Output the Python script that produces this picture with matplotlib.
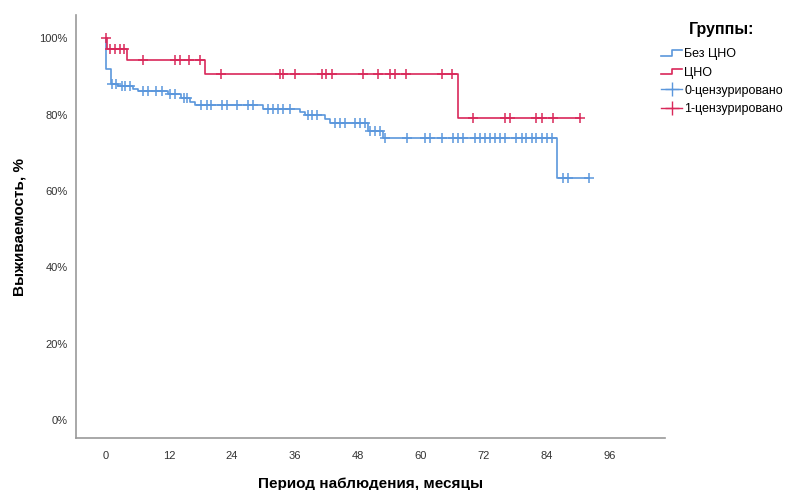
import numpy as np
import matplotlib.pyplot as plt
from matplotlib.lines import Line2D
from matplotlib.legend_handler import HandlerBase

# Без ЦНО: step times (months) and survival after each step (%)
blue_t = [0.0, 0.0, 0.9, 2.3, 5.2, 6.1, 11.9, 14.4, 16.0, 17.0, 30.0, 37.0,
          37.9, 41.7, 42.7, 50.0, 52.7, 86.0]
blue_s = [100.0, 92.0, 88.1, 87.5, 86.8, 86.1, 85.3, 84.2, 83.3, 82.5, 81.4,
          80.6, 80.0, 78.8, 77.7, 75.8, 73.9, 63.5]
blue_cens = [1.1, 2.0, 3.0, 3.6, 4.6, 7.1, 8.0, 9.6, 10.6, 12.2, 13.1, 14.9,
             15.5, 18.2, 19.2, 20.1, 22.1, 23.0, 24.9, 27.1, 28.1, 30.9, 31.9,
             32.8, 33.8, 35.0, 38.5, 39.2, 40.2, 43.6, 44.6, 45.5, 47.4, 48.4,
             49.3, 50.3, 51.2, 52.2, 53.1, 57.3, 60.8, 61.7, 64.1, 66.2, 67.1,
             68.1, 70.3, 71.2, 72.2, 73.1, 74.1, 75.0, 76.0, 78.2, 79.2, 80.1,
             81.1, 82.0, 83.0, 84.0, 84.9, 87.0, 88.0, 92.0]

# ЦНО
red_t = [0.0, 0.2, 4.0, 18.9, 67.1]
red_s = [100.0, 97.1, 94.4, 90.6, 79.2]
red_cens = [0.0, 0.8, 1.7, 2.6, 3.5, 7.1, 13.1, 14.1, 15.9, 17.9, 21.9, 33.1,
            33.8, 36.0, 41.1, 42.0, 43.0, 49.0, 51.9, 54.1, 55.0, 57.1, 64.1,
            66.0, 70.0, 76.0, 77.0, 82.0, 83.0, 85.1, 90.3]

xticks = [0, 12, 24, 36, 48, 60, 72, 84, 96]
yticks = [0, 20, 40, 60, 80, 100]

BLUE = '#5b97dc'
RED = '#d9285a'


def curve(t, s, cens):
    t = np.array(t)
    s = np.array(s)
    end = max(t.max(), max(cens))
    xs = np.append(t, end)
    ys = np.append(s, s[-1])
    idx = np.searchsorted(t, cens, side='right') - 1
    return xs, ys, np.array(cens), s[idx]


class StepHandler(HandlerBase):
    def create_artists(self, legend, orig, xd, yd, w, h, fontsize, trans):
        x = [xd, xd + w * 0.5, xd + w * 0.5, xd + w]
        y = [yd + h * 0.2, yd + h * 0.2, yd + h * 0.8, yd + h * 0.8]
        ln = Line2D(x, y, color=orig.get_color(), lw=orig.get_linewidth())
        ln.set_transform(trans)
        return [ln]


fig = plt.figure(figsize=(7.98, 4.9), dpi=100)
ax = fig.add_axes([0.0952, 0.106, 0.738, 0.863])

for (t, s, c, col) in [(blue_t, blue_s, blue_cens, BLUE),
                       (red_t, red_s, red_cens, RED)]:
    xs, ys, cx, cy = curve(t, s, c)
    ax.plot(xs, ys, drawstyle='steps-post', color=col, lw=1.2)
    ax.plot(cx, cy, ls='none', marker='+', ms=7, mew=1.1, color=col)

ax.set_xlim(-5.7, 106.5)
ax.set_ylim(-4.7, 106)
ax.set_xticks(xticks)
ax.set_yticks(yticks)
ax.set_yticklabels([f'{v}%' for v in yticks])
ax.tick_params(length=0, labelsize=8, labelcolor='#333333', pad=9)
for lab in ax.get_xticklabels() + ax.get_yticklabels():
    lab.set_fontfamily(['Liberation Sans Narrow', 'Liberation Sans'])
ax.tick_params(axis='y', pad=6)
for side in ['top', 'right']:
    ax.spines[side].set_visible(False)
for side in ['left', 'bottom']:
    ax.spines[side].set_color('#999999')
    ax.spines[side].set_linewidth(1.2)

ax.set_ylabel('Выживаемость, %', fontsize=11, fontweight='bold',
              family='Liberation Sans', labelpad=9)
ax.set_xlabel('Период наблюдения, месяцы', fontsize=11, fontweight='bold',
              family='Liberation Sans', labelpad=12)

h1 = Line2D([], [], color=BLUE, lw=1.2)
h2 = Line2D([], [], color=RED, lw=1.2)
h3 = Line2D([], [], color=BLUE, lw=1.0, marker='+', ms=10, mew=1.0)
h4 = Line2D([], [], color=RED, lw=1.0, marker='+', ms=10, mew=1.0)
leg = fig.legend([h1, h2, h3, h4],
                 ['Без ЦНО', 'ЦНО', '0-цензурировано', '1-цензурировано'],
                 handler_map={h1: StepHandler(), h2: StepHandler()},
                 loc='upper left', bbox_to_anchor=(0.822, 0.965),
                 frameon=False, title='Группы:', fontsize=9,
                 handlelength=1.7, handletextpad=0.15, labelspacing=0.5,
                 borderaxespad=0)
leg.get_title().set_fontweight('bold')
leg.get_title().set_fontsize(11.5)
leg._legend_box.sep = 8
for txt in leg.get_texts():
    txt.set_fontfamily('Liberation Sans')
leg.get_title().set_fontfamily('Liberation Sans')

fig.savefig('out.png', dpi=100)
